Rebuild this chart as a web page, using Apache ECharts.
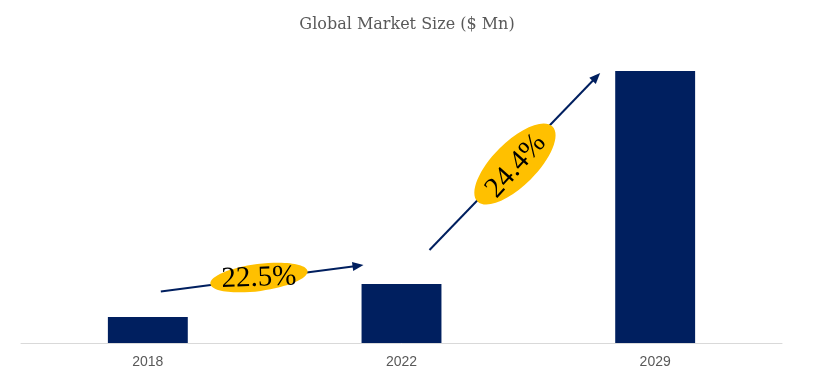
<!DOCTYPE html>
<html>
<head>
<meta charset="utf-8">
<script src="https://cdn.jsdelivr.net/npm/echarts@6/dist/echarts.min.js"></script>
<style>
html,body{margin:0;padding:0;background:#fff;}
#main{width:814px;height:384px;}
</style>
</head>
<body>
<div id="main"></div>
<script>
const categories = ['2018', '2022', '2029'];
const marketSize = [26, 59, 272];
const cagrLabels = ['22.5%', '24.4%'];

const chart = echarts.init(document.getElementById('main'));

const navy = '#001F5F';
const gold = '#FFC000';

function arrow(x1, y1, x2, y2) {
  const ang = Math.atan2(y2 - y1, x2 - x1);
  const L = 11, W = 4.5;
  const bx = x2 - L * Math.cos(ang), by = y2 - L * Math.sin(ang);
  const px = -Math.sin(ang), py = Math.cos(ang);
  return [
    { type: 'line', z: 10, shape: { x1: x1, y1: y1, x2: bx + 2 * Math.cos(ang), y2: by + 2 * Math.sin(ang) },
      style: { stroke: navy, lineWidth: 2 } },
    { type: 'polygon', z: 10, shape: { points: [[x2, y2], [bx + px * W, by + py * W], [bx - px * W, by - py * W]] },
      style: { fill: navy } }
  ];
}

chart.setOption({
  animation: false,
  title: {
    text: 'Global Market Size ($ Mn)',
    left: 'center',
    top: 12,
    textStyle: { fontFamily: 'DejaVu Serif', fontSize: 16, fontWeight: 'normal', color: '#595959' }
  },
  grid: { left: 21, right: 32, top: 60, bottom: 41 },
  xAxis: {
    type: 'category',
    data: categories,
    axisLine: { lineStyle: { color: '#D9D9D9', width: 1 } },
    axisTick: { show: false },
    axisLabel: { color: '#595959', fontFamily: 'Liberation Sans', fontSize: 14, margin: 12 }
  },
  yAxis: {
    type: 'value', min: 0, max: 283, show: false, splitLine: { show: false }
  },
  series: [{
    type: 'bar',
    data: marketSize,
    barWidth: '31.5%',
    itemStyle: { color: navy }
  }]
});

const c0 = chart.convertToPixel({ seriesIndex: 0 }, [0, 0]);
const c1 = chart.convertToPixel({ seriesIndex: 0 }, [1, 0]);
const c2 = chart.convertToPixel({ seriesIndex: 0 }, [2, 0]);

const a1 = [c0[0] + 13, 291.5, c1[0] - 38, 265];
const a2 = [c1[0] + 28, 250, c2[0] - 55, 73];

const deg = Math.PI / 180;
const elements = []
  .concat(arrow(a1[0], a1[1], a1[2], a1[3]))
  .concat(arrow(a2[0], a2[1], a2[2], a2[3]))
  .concat([
    { type: 'ellipse', z: 11, x: 259, y: 277.5, rotation: 7.5 * deg,
      shape: { cx: 0, cy: 0, rx: 49, ry: 13.5 }, style: { fill: gold } },
    { type: 'text', z: 12, x: 259, y: 278, rotation: 2 * deg,
      style: { text: cagrLabels[0], font: '29px "Liberation Serif"', fill: '#000', align: 'center', verticalAlign: 'middle' } },
    { type: 'ellipse', z: 11, x: 515, y: 164, rotation: 45 * deg,
      shape: { cx: 0, cy: 0, rx: 53, ry: 22 }, style: { fill: gold } },
    { type: 'text', z: 12, x: 516, y: 166, rotation: 48 * deg,
      style: { text: cagrLabels[1], font: '29px "Liberation Serif"', fill: '#000', align: 'center', verticalAlign: 'middle' } }
  ]);

chart.setOption({ graphic: { elements: elements } });
</script>
</body>
</html>
